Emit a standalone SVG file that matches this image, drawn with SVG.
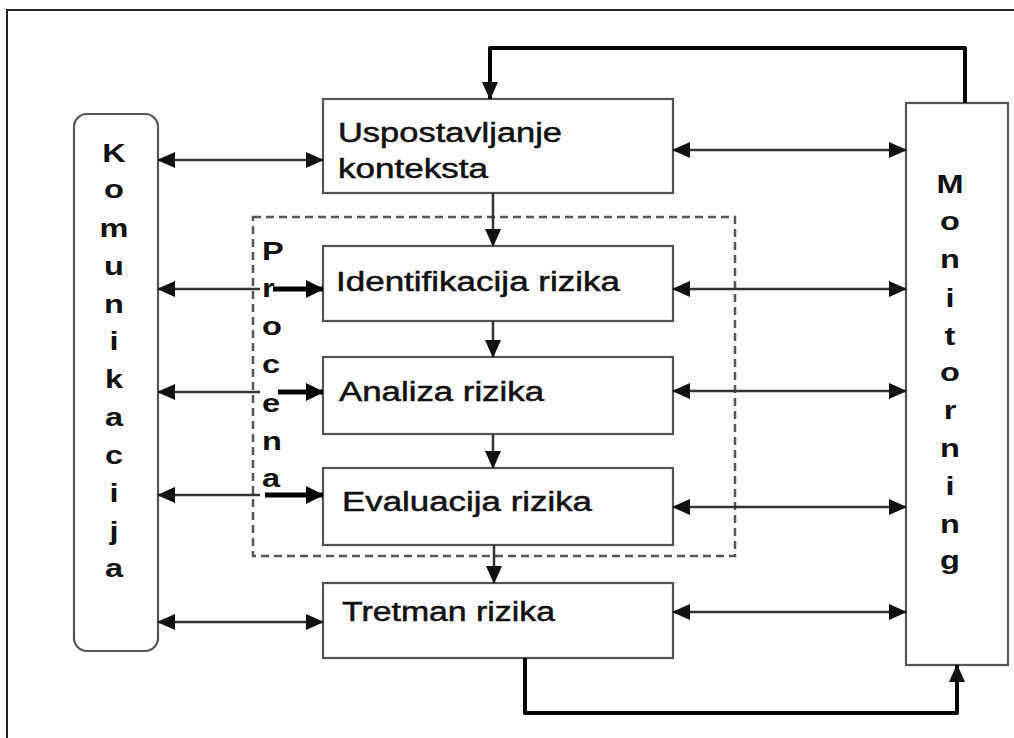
<svg xmlns="http://www.w3.org/2000/svg" width="1014" height="738" viewBox="0 0 1014 738">
<style>
.box{fill:#fff;stroke:#555;stroke-width:2.2}
.lbl{font-family:"Liberation Sans",Arial,sans-serif;font-size:27px;fill:#111;stroke:#111;stroke-width:0.5}
.vl{font-family:"Liberation Sans",Arial,sans-serif;font-size:26px;font-weight:bold;fill:#111;text-anchor:middle}
.pl{font-family:"Liberation Sans",Arial,sans-serif;font-size:26px;font-weight:bold;fill:#111}
.thin{fill:none;stroke:#333;stroke-width:2.5}
.bold{fill:none;stroke:#000;stroke-width:5}
.fb{fill:none;stroke:#000;stroke-width:4;stroke-linejoin:round}
</style>
<defs>
<marker id="ah" markerUnits="userSpaceOnUse" markerWidth="18" markerHeight="16" refX="17" refY="8" orient="auto-start-reverse">
<path d="M0,0 L18,8 L0,16 Z" fill="#111"/>
</marker>
<marker id="ahb" markerUnits="userSpaceOnUse" markerWidth="18" markerHeight="18" refX="17" refY="9" orient="auto">
<path d="M0,0 L18,9 L0,18 Z" fill="#000"/>
</marker>
</defs>
<rect x="0" y="0" width="1014" height="738" fill="#fff"/>
<rect x="7" y="10" width="1020" height="760" fill="none" stroke="#222" stroke-width="2"/>

<g id="procena-group">
<rect x="253" y="217" width="482" height="339" fill="none" stroke="#555" stroke-width="2.5" stroke-dasharray="8,5"/>
<g transform="translate(262,0) scale(1.25,1)">
<text class="pl" x="0" y="260">P</text>
<text class="pl" x="0" y="297">r</text>
<text class="pl" x="0" y="335">o</text>
<text class="pl" x="0" y="373">c</text>
<text class="pl" x="0" y="412">e</text>
<text class="pl" x="0" y="450">n</text>
<text class="pl" x="0" y="487">a</text>
</g>
</g>

<g id="komunikacija">
<rect class="box" x="74" y="114" width="84" height="537" rx="13"/>
<g transform="translate(114,0) scale(1.25,1)">
<text class="vl" x="0" y="162">K</text>
<text class="vl" x="0" y="198">o</text>
<text class="vl" x="0" y="237">m</text>
<text class="vl" x="0" y="275">u</text>
<text class="vl" x="0" y="313">n</text>
<text class="vl" x="0" y="350">i</text>
<text class="vl" x="0" y="388">k</text>
<text class="vl" x="0" y="426">a</text>
<text class="vl" x="0" y="464">c</text>
<text class="vl" x="0" y="502">i</text>
<text class="vl" x="0" y="540">j</text>
<text class="vl" x="0" y="577">a</text>
</g>
</g>

<g id="monitoring">
<rect class="box" x="906" y="103" width="102" height="562"/>
<g transform="translate(950,0) scale(1.25,1)">
<text class="vl" x="0" y="193">M</text>
<text class="vl" x="0" y="230">o</text>
<text class="vl" x="0" y="268">n</text>
<text class="vl" x="0" y="307">i</text>
<text class="vl" x="0" y="345">t</text>
<text class="vl" x="0" y="381">o</text>
<text class="vl" x="0" y="419">r</text>
<text class="vl" x="0" y="457">n</text>
<text class="vl" x="0" y="495">i</text>
<text class="vl" x="0" y="533">n</text>
<text class="vl" x="0" y="569">g</text>
</g>
</g>

<g id="uspostavljanje">
<rect class="box" x="323" y="99" width="350" height="94"/>
<text class="lbl" x="338" y="142" textLength="224" lengthAdjust="spacingAndGlyphs">Uspostavljanje</text>
<text class="lbl" x="338" y="178" textLength="150" lengthAdjust="spacingAndGlyphs">konteksta</text>
</g>
<g id="identifikacija">
<rect class="box" x="323" y="246" width="350" height="75"/>
<text class="lbl" x="336" y="291" textLength="284" lengthAdjust="spacingAndGlyphs">Identifikacija rizika</text>
</g>
<g id="analiza">
<rect class="box" x="323" y="357" width="350" height="77"/>
<text class="lbl" x="339" y="401" textLength="205" lengthAdjust="spacingAndGlyphs">Analiza rizika</text>
</g>
<g id="evaluacija">
<rect class="box" x="323" y="468" width="350" height="77"/>
<text class="lbl" x="342" y="511" textLength="250" lengthAdjust="spacingAndGlyphs">Evaluacija rizika</text>
</g>
<g id="tretman">
<rect class="box" x="323" y="583" width="350" height="75"/>
<text class="lbl" x="342" y="621" textLength="213" lengthAdjust="spacingAndGlyphs">Tretman rizika</text>
</g>

<g id="connectors">
<line class="thin" x1="158" y1="160" x2="323" y2="160" marker-start="url(#ah)" marker-end="url(#ah)"/>
<line class="thin" x1="158" y1="289" x2="260" y2="289" marker-start="url(#ah)"/>
<line class="bold" x1="273" y1="289" x2="323" y2="289" marker-end="url(#ahb)"/>
<line class="thin" x1="158" y1="392" x2="260" y2="392" marker-start="url(#ah)"/>
<line class="bold" x1="278" y1="392" x2="323" y2="392" marker-end="url(#ahb)"/>
<line class="thin" x1="158" y1="495" x2="260" y2="495" marker-start="url(#ah)"/>
<line class="bold" x1="265" y1="495" x2="323" y2="495" marker-end="url(#ahb)"/>
<line class="thin" x1="158" y1="622" x2="323" y2="622" marker-start="url(#ah)" marker-end="url(#ah)"/>
<line class="thin" x1="673" y1="150" x2="906" y2="150" marker-start="url(#ah)" marker-end="url(#ah)"/>
<line class="thin" x1="673" y1="289" x2="906" y2="289" marker-start="url(#ah)" marker-end="url(#ah)"/>
<line class="thin" x1="673" y1="391" x2="906" y2="391" marker-start="url(#ah)" marker-end="url(#ah)"/>
<line class="thin" x1="673" y1="507" x2="906" y2="507" marker-start="url(#ah)" marker-end="url(#ah)"/>
<line class="thin" x1="673" y1="612" x2="906" y2="612" marker-start="url(#ah)" marker-end="url(#ah)"/>
<line class="thin" x1="493" y1="193" x2="493" y2="246" marker-end="url(#ah)"/>
<line class="thin" x1="493" y1="321" x2="493" y2="357" marker-end="url(#ah)"/>
<line class="thin" x1="493" y1="434" x2="493" y2="468" marker-end="url(#ah)"/>
<line class="thin" x1="494" y1="545" x2="494" y2="583" marker-end="url(#ah)"/>
<path class="fb" d="M965,103 L965,48 L490,48 L490,99" marker-end="url(#ah)"/>
<path class="fb" d="M525,658 L525,713 L957,713 L957,665" marker-end="url(#ah)"/>
</g>
</svg>
